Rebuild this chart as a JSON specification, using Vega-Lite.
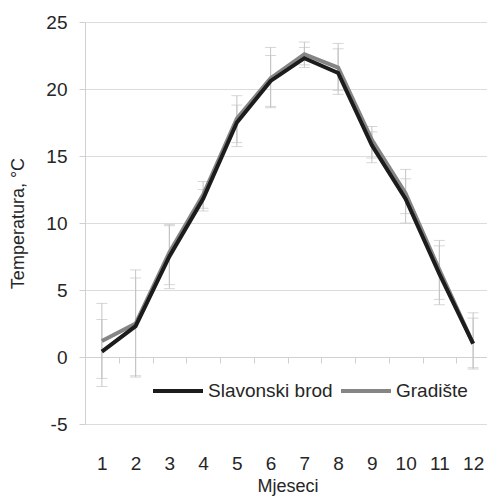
{
  "$schema": "https://vega.github.io/schema/vega-lite/v6.json",
  "autosize": {"type": "none"},
  "padding": {"left": 85, "top": 22, "right": 0, "bottom": 80},
  "width": 405,
  "height": 402,
  "background": "white",
  "config": {
    "font": "Liberation Sans",
    "view": {"stroke": null},
    "axis": {"labelFont": "Liberation Sans", "titleFont": "Liberation Sans", "labelFontSize": 19, "titleFontSize": 18, "titleFontWeight": "normal", "labelColor": "#262626", "titleColor": "#262626", "domainColor": "#d0d0d0", "tickColor": "#d0d0d0", "gridColor": "#dcdcdc"},
    "legend": {"labelFont": "Liberation Sans", "labelFontSize": 19, "labelColor": "#262626"}
  },
  "data": {"values": [
    {"month": 1, "station": "Gradište", "t": 1.2, "lo": -1.6, "hi": 4.0},
    {"month": 2, "station": "Gradište", "t": 2.5, "lo": -1.5, "hi": 6.5},
    {"month": 3, "station": "Gradište", "t": 7.8, "lo": 5.4, "hi": 9.9},
    {"month": 4, "station": "Gradište", "t": 12.1, "lo": 11.1, "hi": 13.1},
    {"month": 5, "station": "Gradište", "t": 17.8, "lo": 16.0, "hi": 19.5},
    {"month": 6, "station": "Gradište", "t": 20.8, "lo": 18.7, "hi": 23.1},
    {"month": 7, "station": "Gradište", "t": 22.6, "lo": 21.8, "hi": 23.5},
    {"month": 8, "station": "Gradište", "t": 21.6, "lo": 19.9, "hi": 23.4},
    {"month": 9, "station": "Gradište", "t": 16.2, "lo": 14.85, "hi": 17.2},
    {"month": 10, "station": "Gradište", "t": 12.2, "lo": 10.7, "hi": 14.0},
    {"month": 11, "station": "Gradište", "t": 6.5, "lo": 4.3, "hi": 8.7},
    {"month": 12, "station": "Gradište", "t": 1.0, "lo": -0.9, "hi": 3.3},
    {"month": 1, "station": "Slavonski brod", "t": 0.4, "lo": -2.2, "hi": 2.8},
    {"month": 2, "station": "Slavonski brod", "t": 2.3, "lo": -1.4, "hi": 5.9},
    {"month": 3, "station": "Slavonski brod", "t": 7.5, "lo": 5.1, "hi": 9.8},
    {"month": 4, "station": "Slavonski brod", "t": 11.8, "lo": 10.9, "hi": 12.5},
    {"month": 5, "station": "Slavonski brod", "t": 17.5, "lo": 15.7, "hi": 18.8},
    {"month": 6, "station": "Slavonski brod", "t": 20.6, "lo": 18.6, "hi": 22.5},
    {"month": 7, "station": "Slavonski brod", "t": 22.3, "lo": 21.6, "hi": 23.1},
    {"month": 8, "station": "Slavonski brod", "t": 21.2, "lo": 19.6, "hi": 23.0},
    {"month": 9, "station": "Slavonski brod", "t": 15.8, "lo": 14.5, "hi": 16.8},
    {"month": 10, "station": "Slavonski brod", "t": 11.8, "lo": 10.0, "hi": 13.3},
    {"month": 11, "station": "Slavonski brod", "t": 6.2, "lo": 3.9, "hi": 8.3},
    {"month": 12, "station": "Slavonski brod", "t": 1.0, "lo": -0.8, "hi": 2.9}
  ]},
  "encoding": {
    "x": {"field": "month", "type": "ordinal", "scale": {"paddingInner": 0, "paddingOuter": 0},
      "axis": {"title": "Mjeseci", "labelAngle": 0, "offset": -67, "tickBand": "extent", "tickSize": 6, "labelPadding": 91, "titlePadding": 4, "domain": true}}
  },
  "layer": [
    {"mark": {"type": "rule", "color": "#c4c4c4", "strokeWidth": 1},
     "encoding": {"y": {"field": "lo", "type": "quantitative"}, "y2": {"field": "hi"}}},
    {"mark": {"type": "tick", "color": "#c4c4c4", "size": 11, "thickness": 1},
     "encoding": {"y": {"field": "lo", "type": "quantitative"}}},
    {"mark": {"type": "tick", "color": "#c4c4c4", "size": 11, "thickness": 1},
     "encoding": {"y": {"field": "hi", "type": "quantitative"}}},
    {"mark": {"type": "line", "strokeWidth": 4},
     "encoding": {
       "y": {"field": "t", "type": "quantitative", "scale": {"domain": [-5, 25], "nice": false},
         "axis": {"title": "Temperatura, °C", "values": [-5, 0, 5, 10, 15, 20, 25], "labelExpr": "datum.value < 0 ? '-' + abs(datum.value) : '' + datum.value", "tickSize": 6, "labelPadding": 12, "titlePadding": 18, "grid": true}},
       "color": {"field": "station", "type": "nominal", "sort": ["Slavonski brod", "Gradište"],
         "scale": {"domain": ["Slavonski brod", "Gradište"], "range": ["#1c1c1c", "#858585"]},
         "legend": {"title": null, "orient": "none", "legendX": 66, "legendY": 342, "direction": "horizontal", "symbolType": "stroke", "symbolSize": 2500, "symbolStrokeWidth": 4, "labelOffset": 3, "columnPadding": 0}},
       "order": {"field": "station", "sort": "descending"}
     }}
  ]
}
